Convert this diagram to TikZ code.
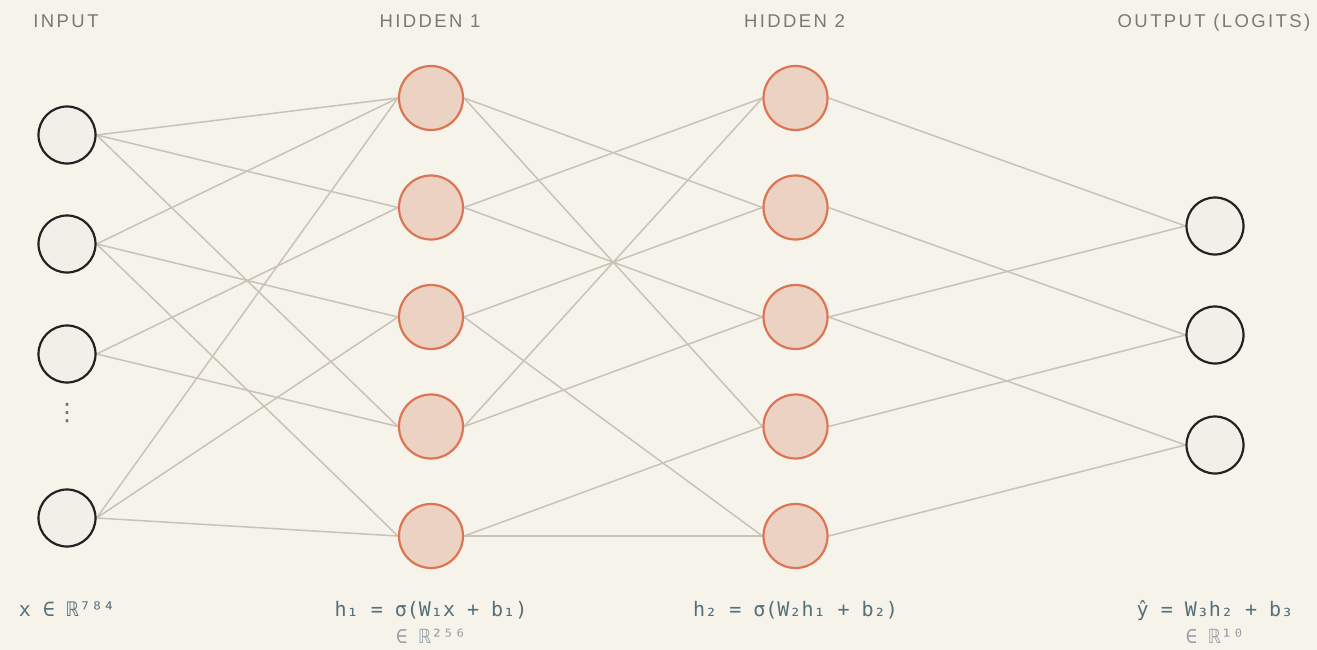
\documentclass[tikz,border=0pt]{standalone}
\usepackage{fontspec}
\newfontfamily\monof{DejaVu Sans Mono}
\newfontfamily\headf[LetterSpace=13]{Liberation Sans}
\newfontfamily\symf{DejaVu Sans}
\usetikzlibrary{backgrounds}
\definecolor{bgc}{HTML}{F6F3EA}
\definecolor{inkc}{HTML}{222222}
\definecolor{infill}{HTML}{F1EFE8}
\definecolor{hfill}{HTML}{EBD2C3}
\definecolor{hdraw}{HTML}{DC7553}
\definecolor{edgec}{HTML}{C7C3B9}
\definecolor{headc}{HTML}{7A7A72}
\definecolor{dotc}{HTML}{6F6F68}
\definecolor{formc}{HTML}{56707A}
\definecolor{dimc}{HTML}{95A0A5}
\tikzset{
  inode/.style={circle, draw=inkc, fill=infill, line width=2.2pt, minimum size=57pt, inner sep=0pt},
  hnode/.style={circle, draw=hdraw, fill=hfill, line width=2.2pt, minimum size=64pt, inner sep=0pt},
  edge/.style={draw=edgec, line width=1.5pt},
  head/.style={text=headc, font=\headf\fontsize{18.5}{22}\selectfont, anchor=base, inner sep=0pt},
  formula/.style={text=formc, font=\monof\fontsize{20}{24}\selectfont, anchor=base, inner sep=0pt},
  dimlabel/.style={text=dimc, font=\monof\fontsize{19.5}{22}\selectfont, anchor=base, inner sep=0pt},
  vdots/.style={text=dotc, font=\symf\fontsize{24}{26}\selectfont, inner sep=0pt}
}
\begin{document}
\begin{tikzpicture}[x=1pt,y=-1pt]
\useasboundingbox (0,0) rectangle (1317,650);
% input layer
\node[inode] (i1) at (67,135) {};
\node[inode] (i2) at (67,244) {};
\node[inode] (i3) at (67,354) {};
\node[inode] (i4) at (67,518) {};
\node[vdots] (dots) at (67,413) {⋮};
% hidden 1
\node[hnode] (a1) at (431,98) {};
\node[hnode] (a2) at (431,207.5) {};
\node[hnode] (a3) at (431,317) {};
\node[hnode] (a4) at (431,426.5) {};
\node[hnode] (a5) at (431,536) {};
% hidden 2
\node[hnode] (b1) at (795.5,98) {};
\node[hnode] (b2) at (795.5,207.5) {};
\node[hnode] (b3) at (795.5,317) {};
\node[hnode] (b4) at (795.5,426.5) {};
\node[hnode] (b5) at (795.5,536) {};
% output
\node[inode] (o1) at (1215,226) {};
\node[inode] (o2) at (1215,335) {};
\node[inode] (o3) at (1215,445) {};
% headings
\node[head] (t1) at (66,28) {INPUT};
\node[head] (t2) at (430,28) {HIDDEN 1};
\node[head] (t3) at (794.5,28) {HIDDEN 2};
\node[head] (t4) at (1214,28) {OUTPUT (LOGITS)};
% formulas
\node[formula] (f1) at (67,616) {x ∈ ℝ⁷⁸⁴};
\node[formula] (f2) at (431,616) {h₁ = σ(W₁x + b₁)};
\node[dimlabel] (d2) at (431,643) {∈ ℝ²⁵⁶};
\node[formula] (f3) at (795.5,616) {h₂ = σ(W₂h₁ + b₂)};
\node[formula] (f4) at (1215,616) {ŷ = W₃h₂ + b₃};
\node[dimlabel] (d4) at (1215,643) {∈ ℝ¹⁰};
\begin{pgfonlayer}{background}
\fill[bgc] (0,0) rectangle (1317,650);
% input -> hidden 1
\draw[edge] (i1.east) -- (a1.west);
\draw[edge] (i1.east) -- (a2.west);
\draw[edge] (i1.east) -- (a4.west);
\draw[edge] (i2.east) -- (a1.west);
\draw[edge] (i2.east) -- (a3.west);
\draw[edge] (i2.east) -- (a5.west);
\draw[edge] (i3.east) -- (a2.west);
\draw[edge] (i3.east) -- (a4.west);
\draw[edge] (i4.east) -- (a1.west);
\draw[edge] (i4.east) -- (a3.west);
\draw[edge] (i4.east) -- (a5.west);
% hidden 1 -> hidden 2
\draw[edge] (a1.east) -- (b2.west);
\draw[edge] (a1.east) -- (b4.west);
\draw[edge] (a2.east) -- (b1.west);
\draw[edge] (a2.east) -- (b3.west);
\draw[edge] (a3.east) -- (b2.west);
\draw[edge] (a3.east) -- (b5.west);
\draw[edge] (a4.east) -- (b1.west);
\draw[edge] (a4.east) -- (b3.west);
\draw[edge] (a5.east) -- (b4.west);
\draw[edge] (a5.east) -- (b5.west);
% hidden 2 -> output
\draw[edge] (b1.east) -- (o1.west);
\draw[edge] (b2.east) -- (o2.west);
\draw[edge] (b3.east) -- (o1.west);
\draw[edge] (b3.east) -- (o3.west);
\draw[edge] (b4.east) -- (o2.west);
\draw[edge] (b5.east) -- (o3.west);
\end{pgfonlayer}
\end{tikzpicture}
\end{document}
